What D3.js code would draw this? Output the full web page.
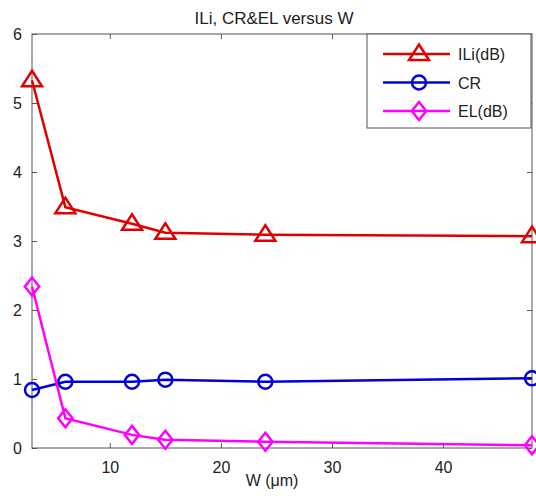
<!DOCTYPE html>
<html><head><meta charset="utf-8">
<script src="https://cdn.jsdelivr.net/npm/d3@7"></script>
<style>body{margin:0;background:#fff;} text{font-family:Arial,"Liberation Sans",sans-serif;}</style>
</head><body><svg id="c" width="536" height="498"></svg>
<script>
const widths = [3, 6, 12, 15, 24, 48];
const iliValues = [5.33, 3.49, 3.25, 3.12, 3.09, 3.07];
const crValues = [0.84, 0.96, 0.96, 0.99, 0.96, 1.01];
const elValues = [2.34, 0.43, 0.19, 0.12, 0.09, 0.04];
const seriesNames = ["ILi(dB)", "CR", "EL(dB)"];
const seriesColors = ["#e00000", "#0000dd", "#ff00ff"];
const xTicks = [10, 20, 30, 40];
const yTicks = [0, 1, 2, 3, 4, 5, 6];

const svg = d3.select("#c");
const L = 32, R = 532, T = 34, B = 448;
const x = d3.scaleLinear().domain([3, 48]).range([L, R]);
const y = d3.scaleLinear().domain([0, 6]).range([B, T]);
const axisColor = "#555";

svg.append("rect").attr("x", L).attr("y", T).attr("width", R - L).attr("height", B - T)
  .attr("fill", "none").attr("stroke", axisColor).attr("stroke-width", 1);

const gBottom = svg.append("g").attr("transform", `translate(0,${B})`)
  .call(d3.axisBottom(x).tickValues(xTicks).tickSize(-5).tickPadding(14).tickFormat(d3.format("d")));
const gTop = svg.append("g").attr("transform", `translate(0,${T})`)
  .call(d3.axisTop(x).tickValues(xTicks).tickSize(-5).tickFormat(""));
const gLeft = svg.append("g").attr("transform", `translate(${L},0)`)
  .call(d3.axisLeft(y).tickValues(yTicks).tickSize(-5).tickPadding(10).tickFormat(d3.format("d")));
const gRight = svg.append("g").attr("transform", `translate(${R},0)`)
  .call(d3.axisRight(y).tickValues(yTicks).tickSize(-5).tickFormat(""));
[gBottom, gTop, gLeft, gRight].forEach(g => {
  g.select(".domain").remove();
  g.selectAll("line").attr("stroke", axisColor);
  g.selectAll("text").attr("font-size", 16).attr("fill", "#222")
    .attr("font-family", "Arial, 'Liberation Sans', sans-serif");
});

svg.append("text").attr("x", 274).attr("y", 24).attr("text-anchor", "middle")
  .attr("font-size", 17).attr("fill", "#222").text("ILi, CR&EL versus W");
svg.append("text").attr("x", 272).attr("y", 486).attr("text-anchor", "middle")
  .attr("font-size", 16).attr("fill", "#222").text("W (μm)");

const allValues = [iliValues, crValues, elValues];
const line = d3.line().x((d, i) => x(widths[i])).y(d => y(d));

function marker(g, kind, cx, cy, color) {
  if (kind === 0) {
    const s = 10;
    g.append("path").attr("d", `M${cx},${cy - s * 0.95} L${cx + s},${cy + s * 0.6} L${cx - s},${cy + s * 0.6} Z`)
      .attr("fill", "none").attr("stroke", color).attr("stroke-width", 2.5);
  } else if (kind === 1) {
    g.append("circle").attr("cx", cx).attr("cy", cy).attr("r", 7)
      .attr("fill", "none").attr("stroke", color).attr("stroke-width", 2.5);
  } else {
    const s = 9;
    g.append("path").attr("d", `M${cx},${cy - s} L${cx + s * 0.8},${cy} L${cx},${cy + s} L${cx - s * 0.8},${cy} Z`)
      .attr("fill", "none").attr("stroke", color).attr("stroke-width", 2.5);
  }
}

const plot = svg.append("g");
allValues.forEach((vals, k) => {
  plot.append("path").datum(vals).attr("d", line).attr("fill", "none")
    .attr("stroke", seriesColors[k]).attr("stroke-width", 2.5);
  vals.forEach((v, i) => marker(plot, k, x(widths[i]), y(v), seriesColors[k]));
});

const lg = svg.append("g");
lg.append("rect").attr("x", 367).attr("y", 34).attr("width", 164).attr("height", 94)
  .attr("fill", "#fff").attr("stroke", axisColor).attr("stroke-width", 1);
seriesNames.forEach((n, k) => {
  const yy = 54 + k * 28.5;
  lg.append("line").attr("x1", 383).attr("x2", 450).attr("y1", yy).attr("y2", yy)
    .attr("stroke", seriesColors[k]).attr("stroke-width", 2.5);
  marker(lg, k, 419, yy, seriesColors[k]);
  lg.append("text").attr("x", 458).attr("y", yy + 6).attr("font-size", 16)
    .attr("fill", "#222").text(n);
});
</script></body></html>
